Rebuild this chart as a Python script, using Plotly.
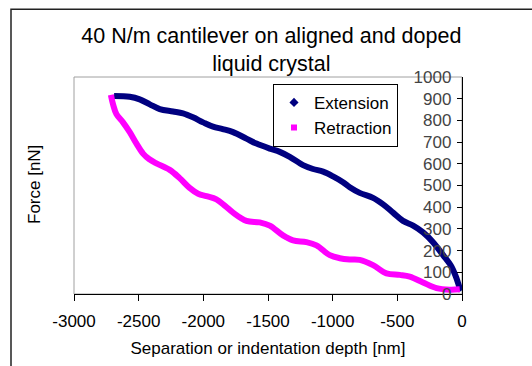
import plotly.graph_objects as go

ext_x = [-2690, -2569, -2492, -2414, -2337, -2234, -2157, -2080, -2002, -1925, -1850, -1770,
         -1667, -1589, -1486, -1409, -1332, -1229, -1152, -1074, -997, -920, -868, -791,
         -688, -610, -533, -456, -378, -301, -224, -146, -81, -43, -17, -5]
ext_y = [913, 909, 897, 874, 852, 841, 832, 814, 791, 771, 760, 746,
         716, 693, 670, 655, 632, 594, 576, 564, 542, 515, 492, 466,
         443, 413, 375, 337, 315, 284, 239, 179, 126, 73, 27, 15]

ret_x = [-2715, -2698, -2672, -2621, -2569, -2517, -2466, -2420, -2363, -2260, -2183, -2106,
         -2040, -1976, -1899, -1830, -1770, -1667, -1564, -1486, -1384, -1306, -1203, -1125,
         -1022, -945, -868, -791, -688, -584, -481, -404, -301, -197, -94, -17]
ret_y = [918, 874, 829, 791, 746, 693, 647, 622, 602, 572, 534, 489,
         462, 451, 436, 405, 375, 337, 330, 315, 270, 247, 239, 224,
         179, 165, 159, 157, 133, 95, 88, 80, 53, 27, 20, 22]

x_ticks = [-3000, -2500, -2000, -1500, -1000, -500, 0]
x_tick_text = ["-3000", "-2500", "-2000", "-1500", "-1000", "-500", "0"]
y_ticks = [0, 100, 200, 300, 400, 500, 600, 700, 800, 900, 1000]

FONT = "Liberation Sans, Arial, sans-serif"
NAVY = "#000080"
MAG = "#FF00FF"

fig = go.Figure()
fig.add_trace(go.Scatter(x=ext_x, y=ext_y, mode="lines", line=dict(color=NAVY, width=6, shape="spline"),
                         showlegend=False, hoverinfo="skip"))
fig.add_trace(go.Scatter(x=ret_x, y=ret_y, mode="lines", line=dict(color=MAG, width=6, shape="spline"),
                         showlegend=False, hoverinfo="skip"))
fig.add_trace(go.Scatter(x=[None], y=[None], mode="markers", name="Extension",
                         marker=dict(symbol="diamond", size=7, color=NAVY)))
fig.add_trace(go.Scatter(x=[None], y=[None], mode="markers", name="Retraction",
                         marker=dict(symbol="square", size=6, color=MAG)))

L, R, T, B = 74, 70, 77, 68
W, H = 532, 366
pw, ph = W - L - R, H - T - B

def px(xp):
    return (xp - L) / pw

def py(yp):
    return (H - B - yp) / ph

fig.update_layout(
    width=W, height=H,
    margin=dict(l=L, r=R, t=T, b=B),
    paper_bgcolor="white", plot_bgcolor="white",
    font=dict(family=FONT, size=17, color="black"),
    title=dict(text="40 N/m cantilever on aligned and doped<br>liquid crystal",
               x=0.51, xanchor="center", xref="container",
               y=1 - 43 / H, yanchor="middle", yref="container",
               font=dict(size=21.5, family=FONT, color="black")),
    xaxis=dict(range=[-3000, 0], tickvals=x_ticks, ticktext=x_tick_text, ticks="outside", ticklen=6,
               tickcolor="black",
               showline=True, linecolor="black", linewidth=1, showgrid=False, zeroline=False,
               ticklabelstandoff=6, tickfont=dict(size=17),
               title=dict(text="Separation or indentation depth [nm]", standoff=11,
                          font=dict(size=17, family=FONT))),
    yaxis=dict(range=[0, 1000], tickvals=y_ticks, side="right", ticks="inside", ticklen=5,
               tickcolor="black", ticklabelposition="inside", ticklabeloverflow="allow",
               ticklabelstandoff=6, tickfont=dict(size=17),
               showline=True, linecolor="black", linewidth=1, showgrid=False, zeroline=False),
    legend=dict(x=px(273), y=py(84), xanchor="left", yanchor="top",
                bgcolor="white", bordercolor="black", borderwidth=1,
                font=dict(size=17, family=FONT)),
    shapes=[
        dict(type="rect", xref="paper", yref="paper", x0=0, y0=0, x1=1, y1=1,
             line=dict(color="#a0a0a0", width=1), layer="below"),
        dict(type="rect", xref="paper", yref="paper", x0=px(11), y0=py(380), x1=px(545), y1=py(8),
             line=dict(color="#222", width=1.5), layer="below"),
    ],
    annotations=[
        dict(text="Force [nN]", textangle=-90, x=px(34), y=py(187), xref="paper", yref="paper",
             showarrow=False, xanchor="center", yanchor="middle", font=dict(size=17, family=FONT)),
    ],
)

fig.write_html("out.html", config={"displayModeBar": False},
               post_script="document.body.style.margin='0';document.body.style.padding='0';")
